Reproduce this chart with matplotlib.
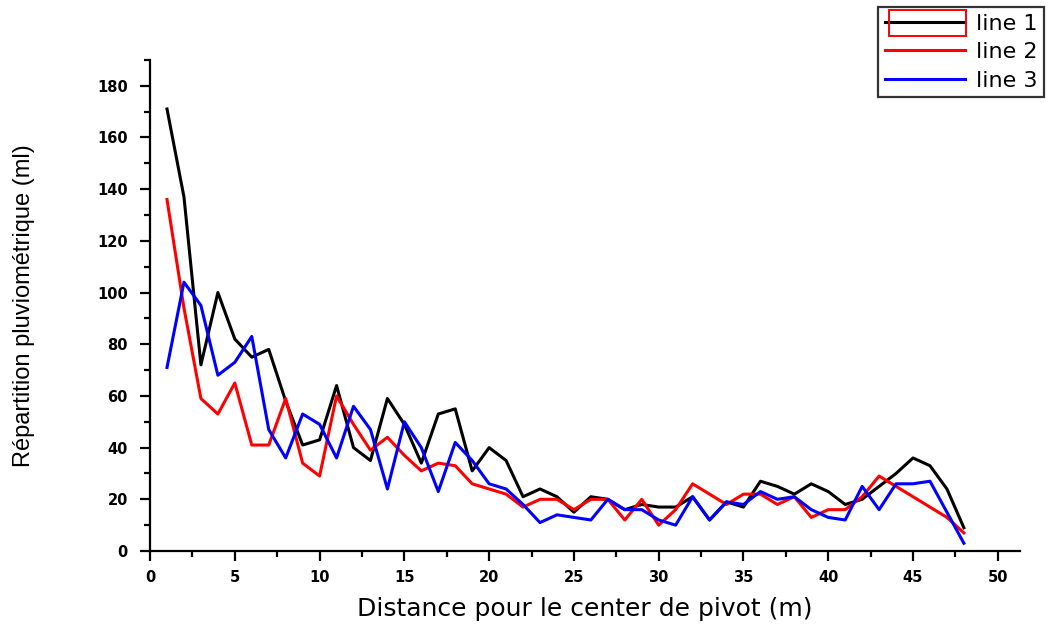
import matplotlib
matplotlib.use("Agg")
import matplotlib.pyplot as plt
from matplotlib.patches import Rectangle
from matplotlib.ticker import MultipleLocator

distance = list(range(1, 49))

line_1 = [171, 137, 72, 100, 82, 75, 78, 58, 41, 43, 64, 40, 35, 59, 49, 34,
          53, 55, 31, 40, 35, 21, 24, 21, 15, 21, 20, 16, 18, 17, 17, 21,
          12, 19, 17, 27, 25, 22, 26, 23, 18, 20, 25, 30, 36, 33, 24, 9]
line_2 = [136, 94, 59, 53, 65, 41, 41, 59, 34, 29, 60, 49, 39, 44, 37, 31,
          34, 33, 26, 24, 22, 17, 20, 20, 16, 20, 20, 12, 20, 10, 16, 26,
          22, 18, 22, 22, 18, 21, 13, 16, 16, 21, 29, 25, 21, 17, 13, 7]
line_3 = [71, 104, 95, 68, 73, 83, 47, 36, 53, 49, 36, 56, 47, 24, 50, 40,
          23, 42, 35, 26, 24, 18, 11, 14, 13, 12, 20, 16, 16, 12, 10, 21,
          12, 19, 18, 23, 20, 21, 16, 13, 12, 25, 16, 26, 26, 27, 15, 3]

plt.rcParams["font.family"] = ["DejaVu Sans"]

fig = plt.figure(figsize=(10.53, 6.28), dpi=100)
ax = fig.add_axes([0.1425, 0.1226, 0.826, 0.782])

ax.plot(distance, line_1, color="black", lw=2.2, label="line 1")
ax.plot(distance, line_2, color="red", lw=2.2, label="line 2")
ax.plot(distance, line_3, color="blue", lw=2.2, label="line 3")

ax.set_xlim(0, 51.3)
ax.set_ylim(0, 190)
ax.xaxis.set_major_locator(MultipleLocator(5))
ax.xaxis.set_minor_locator(MultipleLocator(2.5))
ax.yaxis.set_minor_locator(MultipleLocator(10))
ax.set_yticks([0, 20, 40, 60, 80, 100, 120, 140, 160, 180])
for side in ["top", "right"]:
    ax.spines[side].set_visible(False)
for side in ["left", "bottom"]:
    ax.spines[side].set_linewidth(1.6)
ax.tick_params(which="major", direction="out", length=7, width=1.6, pad=7)
ax.tick_params(which="minor", direction="out", length=4.5, width=1.6)
ax.tick_params(axis="y", pad=9)
for lab in ax.get_xticklabels() + ax.get_yticklabels():
    lab.set_fontsize(10.5)
    lab.set_fontweight("bold")

ax.set_xlabel("Distance pour le center de pivot (m)", fontsize=18,
              labelpad=8)
ax.set_ylabel("Répartition pluviométrique (ml)", fontsize=17,
              family=["Liberation Sans", "DejaVu Sans"], labelpad=45)

leg = fig.legend(loc="upper left", bbox_to_anchor=(878 / 1053, 1 - 7 / 628),
                 fontsize=16, handlelength=3.6, frameon=True, fancybox=False,
                 edgecolor="black", borderpad=0.3, labelspacing=0.38,
                 handletextpad=0.5, borderaxespad=0)
leg.get_frame().set_linewidth(1.6)

# red selection box round the first legend entry
fig.patches.append(Rectangle((889 / 1053, 1 - 36 / 628), 77 / 1053, 26 / 628,
                             transform=fig.transFigure, fill=False,
                             edgecolor="red", lw=1.4, zorder=10))

fig.savefig("out.png", dpi=100)
